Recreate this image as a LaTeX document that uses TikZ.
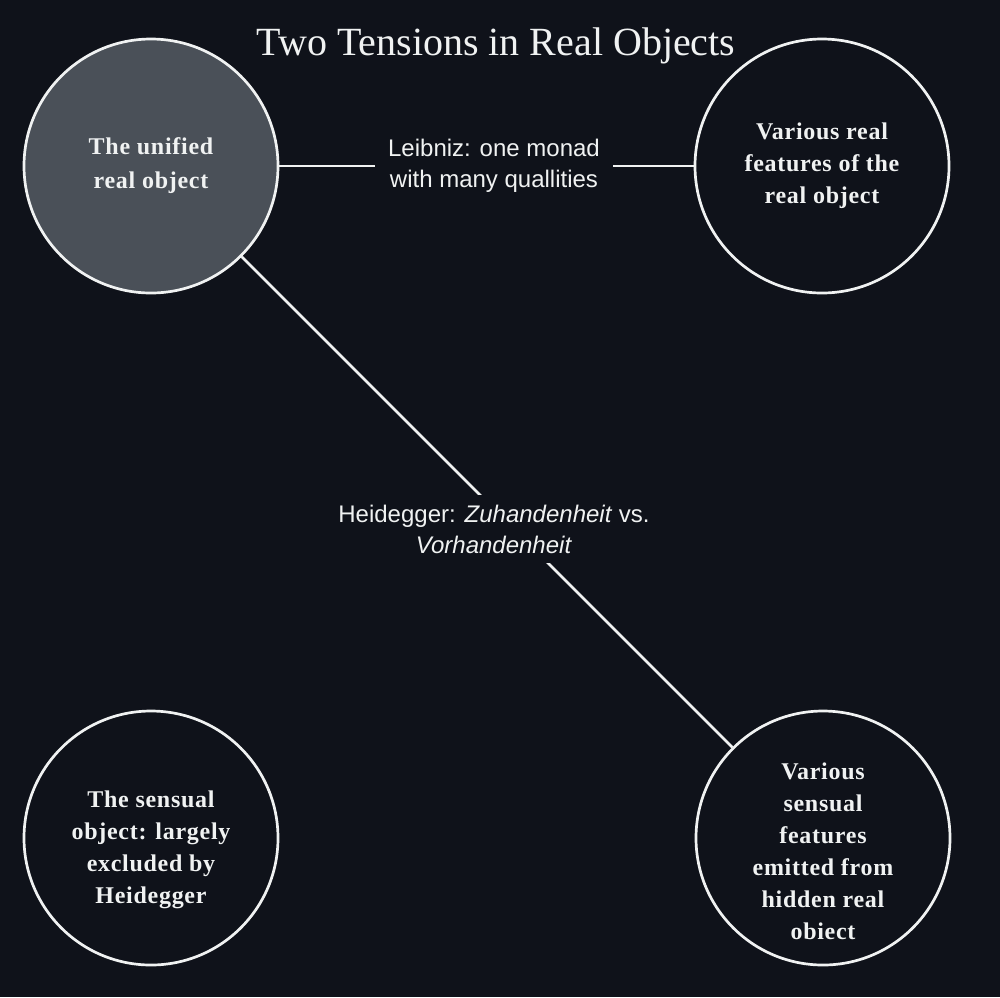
\documentclass[tikz,border=0pt]{standalone}
\usepackage{fontspec}
\setmainfont{Liberation Serif}
\newfontfamily\tensionfont{Liberation Sans}
\newfontfamily\objectfont[LetterSpace=3]{Liberation Serif}
\definecolor{bgnavy}{RGB}{15,18,26}
\definecolor{objgray}{RGB}{74,80,88}
\definecolor{inkwhite}{RGB}{240,242,242}
\begin{document}
\begin{tikzpicture}[x=1pt, y=-1pt, line width=2.7pt,
  object/.style={circle, draw=inkwhite, minimum size=254pt, inner sep=0pt, align=center, text=inkwhite, font=\objectfont\bfseries\fontsize{24}{32}\selectfont},
  tensionlabel/.style={fill=bgnavy, text=inkwhite, align=center, inner xsep=13pt, inner ysep=10pt, font=\tensionfont\fontsize{24}{31}\selectfont}]
  \fill[bgnavy] (0,0) rectangle (1000,997);
  \useasboundingbox (0,0) rectangle (1000,997);
  \node[anchor=base, text=inkwhite, font=\fontsize{40}{48}\selectfont] (title) at (496,55) {Two Tensions in Real Objects};
  % four objects, one in each corner; only the top-left one is filled
  \node[object, fill=objgray] (unified) at (151,166) {The unified\\[2pt] real object};
  \node[object] (realfeat) at (822,166) {Various real\\ features of the\\ real object};
  % bottom texts sit a little low in their circles
  \node[object] (sensual) at (151,838) {\rule{0pt}{41pt}The sensual\\ object: largely\\ excluded by\\ Heidegger};
  \node[object] (sensfeat) at (823,838) {\rule{0pt}{43pt}Various\\ sensual\\ features\\ emitted from\\ hidden real\\ obiect};
  % the two tensions, labels sit on top of the lines
  \draw[inkwhite] (unified) -- (realfeat);
  \draw[inkwhite] (unified) -- (sensfeat);
  \node[tensionlabel] (leibniz) at (494,166) {Leibniz: one monad\\ with many quallities};
  \node[tensionlabel] (heidegger) at (494,529) {Heidegger: \textit{Zuhandenheit} vs.\\ \textit{Vorhandenheit}};
\end{tikzpicture}
\end{document}
